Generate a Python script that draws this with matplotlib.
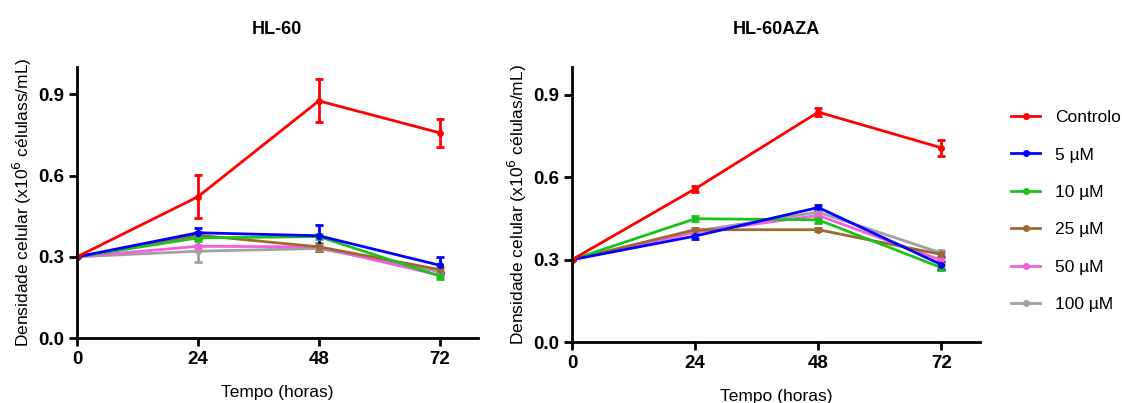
import matplotlib.pyplot as plt
from matplotlib.lines import Line2D

plt.rcParams['font.family'] = ['Liberation Sans', 'DejaVu Sans']

tempo = [0, 24, 48, 72]
series = ['Controlo', '5 µM', '10 µM', '25 µM', '50 µM', '100 µM']
cores = ['#ff0000', '#0000ff', '#1cc21c', '#9a6a30', '#f45ee0', '#a0a0a0']

# HL-60
hl60_media = {
    'Controlo': [0.30, 0.522, 0.876, 0.758],
    '5 µM': [0.30, 0.389, 0.378, 0.269],
    '10 µM': [0.30, 0.370, 0.375, 0.229],
    '25 µM': [0.30, 0.380, 0.337, 0.253],
    '50 µM': [0.30, 0.339, 0.337, 0.232],
    '100 µM': [0.30, 0.321, 0.331, 0.245],
}
hl60_erro = {
    'Controlo': [0, 0.080, 0.079, 0.052],
    '5 µM': [0, 0.018, 0.040, 0.030],
    '10 µM': [0, 0.012, 0.010, 0.012],
    '25 µM': [0, 0.010, 0.015, 0.010],
    '50 µM': [0, 0.005, 0.005, 0.005],
    '100 µM': [0, 0.040, 0.010, 0.010],
}

# HL-60AZA
aza_media = {
    'Controlo': [0.30, 0.558, 0.837, 0.707],
    '5 µM': [0.30, 0.386, 0.490, 0.282],
    '10 µM': [0.30, 0.449, 0.445, 0.271],
    '25 µM': [0.30, 0.409, 0.409, 0.319],
    '50 µM': [0.30, 0.400, 0.461, 0.298],
    '100 µM': [0.30, 0.404, 0.473, 0.324],
}
aza_erro = {
    'Controlo': [0, 0.010, 0.015, 0.030],
    '5 µM': [0, 0.012, 0.010, 0.015],
    '10 µM': [0, 0.010, 0.010, 0.010],
    '25 µM': [0, 0.005, 0.005, 0.010],
    '50 µM': [0, 0.005, 0.010, 0.010],
    '100 µM': [0, 0.005, 0.010, 0.010],
}


def painel(ax, media, erro, titulo, ylabel):
    for nome, cor in reversed(list(zip(series, cores))):
        ax.errorbar(tempo, media[nome], yerr=erro[nome], color=cor, linewidth=2,
                    marker='o', markersize=4, capsize=3, capthick=2, elinewidth=2)
    ax.set_xlim(0, 79.5)
    ax.set_ylim(0, 1.0)
    ax.set_xticks(tempo)
    ax.set_yticks([0.0, 0.3, 0.6, 0.9])
    ax.set_yticklabels(['0.0', '0.3', '0.6', '0.9'])
    for s in ['top', 'right']:
        ax.spines[s].set_visible(False)
    for s in ['left', 'bottom']:
        ax.spines[s].set_linewidth(2)
    ax.tick_params(direction='out', length=6, width=2, labelsize=13.5)
    for t in ax.get_xticklabels() + ax.get_yticklabels():
        t.set_fontweight('bold')
    ax.set_title(titulo, fontsize=13, fontweight='bold', pad=24)
    ax.set_xlabel('Tempo (horas)', fontsize=12.5, labelpad=12)
    ax.set_ylabel(ylabel, fontsize=12.5, labelpad=3)


fig = plt.figure(figsize=(11.22, 4.03), dpi=100)
ax1 = fig.add_axes([0.0686, 0.161, 0.357, 0.672])
ax2 = fig.add_axes([0.5098, 0.151, 0.3636, 0.682])

painel(ax1, hl60_media, hl60_erro, 'HL-60', 'Densidade celular (x10$^6$ célulass/mL)')
painel(ax2, aza_media, aza_erro, 'HL-60AZA', 'Densidade celular (x10$^6$ células/mL)')

handles = [Line2D([], [], color=c, linewidth=2, marker='o', markersize=4) for c in cores]
fig.legend(handles, series, loc='upper left', bbox_to_anchor=(0.901, 0.727),
           frameon=False, fontsize=12.5, handlelength=1.7, labelspacing=1.28,
           handletextpad=0.85, borderpad=0, borderaxespad=0)

fig.savefig('out.png', dpi=100)
